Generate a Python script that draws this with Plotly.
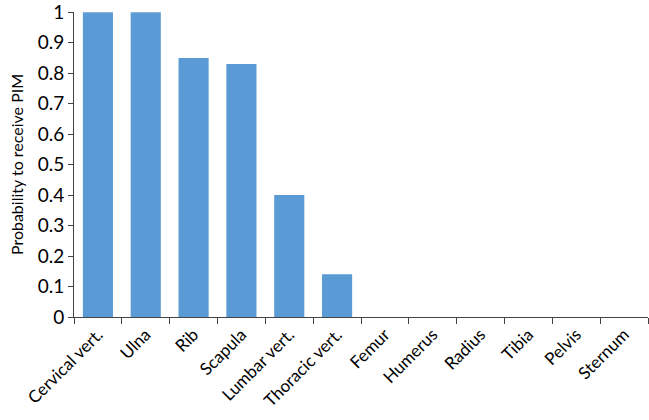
import plotly.graph_objects as go

categories = ["Cervical vert.", "Ulna", "Rib", "Scapula", "Lumbar vert.", "Thoracic vert.",
              "Femur", "Humerus", "Radius", "Tibia", "Pelvis", "Sternum"]
values = [1.0, 1.0, 0.85, 0.83, 0.40, 0.14, 0, 0, 0, 0, 0, 0]
y_ticks = [0, 0.1, 0.2, 0.3, 0.4, 0.5, 0.6, 0.7, 0.8, 0.9, 1]
y_tick_labels = ["0", "0.1", "0.2", "0.3", "0.4", "0.5", "0.6", "0.7", "0.8", "0.9", "1"]

fig = go.Figure(go.Bar(x=categories, y=values, marker_color="#5B9BD5",
                       marker_line_width=0))

font = dict(family="Lato, Open Sans, sans-serif", size=16, color="#000000")
fig.update_layout(
    width=649, height=420,
    margin=dict(l=74, r=1, t=12, b=103),
    paper_bgcolor="white", plot_bgcolor="white",
    bargap=0.37,
    showlegend=False,
    font=font,
)
fig.update_xaxes(
    showline=True, linecolor="#444444", linewidth=1,
    ticks="outside", ticklen=6, tickcolor="#444444",
    tickson="boundaries", tickangle=-45,
    tickfont=dict(size=17),
    showgrid=False, automargin=False,
)
fig.update_yaxes(
    range=[0, 1.0005], tickvals=y_ticks, ticktext=y_tick_labels,
    showline=True, linecolor="#444444", linewidth=1,
    ticks="outside", ticklen=5, tickcolor="#444444",
    ticklabeloverflow="allow",
    showgrid=False, zeroline=False, automargin=False,
    title=dict(text="Probability to receive PIM", font=dict(size=16), standoff=10),
    tickfont=dict(size=19),
)
fig.write_html("out.html")
